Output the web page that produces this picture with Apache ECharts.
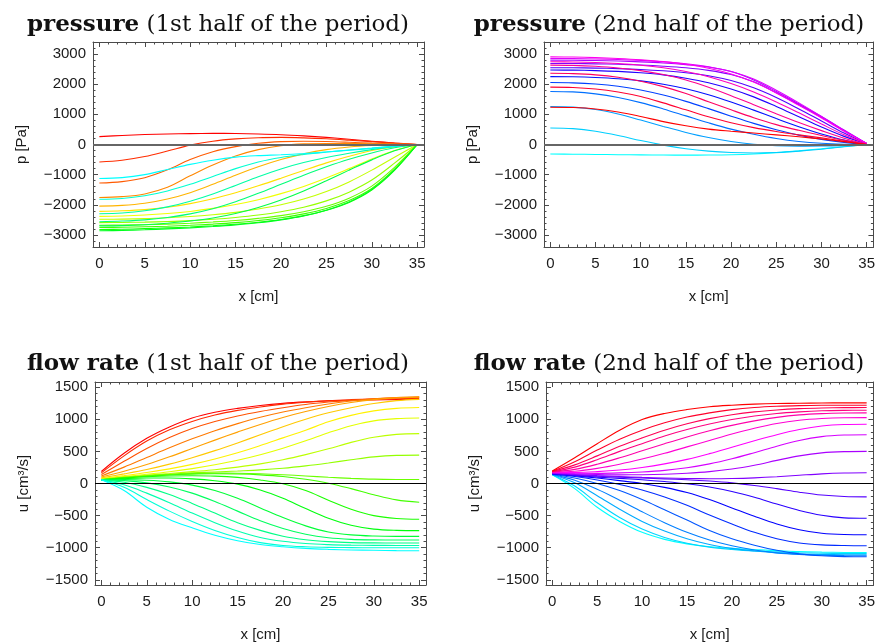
<!DOCTYPE html>
<html>
<head>
<meta charset="utf-8">
<script src="https://cdn.jsdelivr.net/npm/echarts@6.0.0/dist/echarts.min.js"></script>
<style>
html,body{margin:0;padding:0;background:#ffffff;}
#chart{width:878px;height:644px;}
</style>
</head>
<body>
<div id="chart"></div>
<script>
// positions along the tube (cm) at which each curve is sampled
const xCm = [0, 2.5, 5, 7.5, 10, 12.5, 15, 17.5, 20, 22.5, 25, 27.5, 30, 32.5, 35];

// pressure [Pa], 1st half of the period (time order: red -> cyan)
const pressureFirstHalf = [
  [262, 300, 330, 350, 362, 368, 365, 350, 325, 285, 235, 175, 110, 50, 0],
  [-579, -520, -400, -215, -20, 110, 185, 225, 235, 220, 190, 145, 95, 45, 0],
  [-1279, -1230, -1100, -840, -500, -240, -70, 40, 95, 110, 100, 75, 45, 20, 0],
  [-1760, -1730, -1640, -1420, -1040, -680, -380, -170, -40, 20, 35, 32, 22, 10, 0],
  [-2044, -2020, -1950, -1810, -1600, -1320, -1020, -740, -500, -310, -170, -85, -35, -10, 0],
  [-2219, -2200, -2160, -2080, -1960, -1800, -1600, -1370, -1120, -860, -610, -390, -200, -70, 0],
  [-2383, -2370, -2340, -2290, -2220, -2120, -1990, -1830, -1630, -1390, -1110, -800, -480, -200, 0],
  [-2481, -2475, -2460, -2430, -2390, -2330, -2250, -2140, -2000, -1810, -1560, -1240, -850, -420, 0],
  [-2590, -2585, -2575, -2555, -2525, -2480, -2420, -2340, -2230, -2080, -1870, -1580, -1180, -620, 0],
  [-2678, -2672, -2660, -2640, -2610, -2570, -2520, -2450, -2360, -2230, -2050, -1780, -1380, -760, 0],
  [-2754, -2745, -2730, -2710, -2680, -2640, -2590, -2520, -2430, -2300, -2120, -1860, -1460, -820, 0],
  [-2820, -2810, -2790, -2765, -2735, -2695, -2645, -2580, -2490, -2360, -2180, -1920, -1510, -860, 0],
  [-2863, -2850, -2830, -2800, -2765, -2720, -2665, -2595, -2500, -2370, -2180, -1910, -1490, -840, 0],
  [-2700, -2690, -2660, -2610, -2540, -2440, -2290, -2090, -1840, -1540, -1200, -850, -510, -210, 0],
  [-2560, -2540, -2500, -2420, -2300, -2130, -1900, -1620, -1320, -1020, -740, -490, -280, -110, 0],
  [-2295, -2270, -2200, -2070, -1880, -1640, -1360, -1070, -810, -600, -430, -290, -170, -70, 0],
  [-1814, -1790, -1700, -1540, -1320, -1060, -800, -580, -430, -330, -250, -180, -120, -55, 0],
  [-1126, -1100, -1000, -830, -660, -520, -420, -370, -340, -300, -250, -190, -130, -60, 0]
];

// pressure [Pa], 2nd half of the period (time order: cyan -> blue -> magenta -> red)
const pressureSecondHalf = [
  [-317, -322, -330, -338, -345, -350, -352, -350, -340, -315, -270, -210, -140, -65, 0],
  [546, 525, 440, 300, 130, -20, -140, -220, -265, -280, -265, -220, -155, -75, 0],
  [1257, 1240, 1160, 1010, 810, 600, 400, 230, 100, 10, -40, -55, -50, -30, 0],
  [1760, 1745, 1680, 1560, 1390, 1180, 950, 720, 510, 340, 200, 100, 40, 10, 0],
  [2055, 2045, 2005, 1930, 1810, 1640, 1430, 1190, 940, 700, 490, 310, 170, 70, 0],
  [2251, 2245, 2222, 2180, 2110, 2000, 1850, 1650, 1410, 1140, 860, 590, 350, 150, 10],
  [2470, 2466, 2452, 2425, 2380, 2310, 2200, 2050, 1840, 1580, 1260, 920, 580, 270, 20],
  [2546, 2544, 2535, 2518, 2490, 2445, 2380, 2280, 2120, 1880, 1560, 1180, 780, 380, 30],
  [2689, 2686, 2676, 2660, 2635, 2598, 2545, 2460, 2320, 2080, 1720, 1320, 900, 460, 30],
  [2798, 2795, 2785, 2768, 2742, 2705, 2650, 2570, 2420, 2140, 1760, 1350, 930, 480, 30],
  [2852, 2848, 2838, 2820, 2790, 2745, 2680, 2580, 2420, 2170, 1800, 1380, 930, 460, 30],
  [2907, 2900, 2882, 2852, 2810, 2750, 2660, 2530, 2340, 2070, 1710, 1300, 880, 440, 30],
  [2743, 2738, 2720, 2685, 2630, 2545, 2420, 2250, 2020, 1740, 1410, 1050, 680, 320, 20],
  [2634, 2625, 2595, 2540, 2450, 2320, 2140, 1900, 1620, 1320, 1020, 730, 460, 210, 10],
  [2361, 2350, 2310, 2230, 2100, 1920, 1690, 1420, 1150, 890, 660, 470, 300, 140, 0],
  [1902, 1890, 1840, 1740, 1590, 1380, 1150, 920, 720, 560, 430, 320, 220, 110, 0],
  [1235, 1225, 1180, 1080, 930, 760, 620, 510, 440, 380, 320, 255, 180, 95, 0]
];

// flow rate [cm^3/s], 1st half of the period
const flowFirstHalf = [
  [187, 470, 703, 880, 1020, 1110, 1170, 1215, 1248, 1270, 1285, 1295, 1302, 1306, 1308],
  [165, 430, 660, 835, 965, 1065, 1138, 1192, 1235, 1265, 1290, 1305, 1315, 1320, 1322],
  [140, 345, 545, 715, 855, 965, 1052, 1122, 1180, 1230, 1268, 1298, 1320, 1335, 1340],
  [118, 255, 405, 555, 695, 822, 932, 1030, 1112, 1180, 1238, 1285, 1318, 1338, 1348],
  [100, 190, 295, 415, 545, 675, 800, 920, 1028, 1120, 1198, 1260, 1305, 1333, 1345],
  [88, 150, 218, 302, 402, 512, 632, 758, 885, 1000, 1100, 1180, 1245, 1290, 1310],
  [78, 122, 170, 228, 298, 382, 478, 590, 710, 830, 960, 1060, 1130, 1170, 1183],
  [70, 108, 143, 183, 232, 292, 362, 448, 550, 665, 790, 900, 975, 1010, 1020],
  [65, 100, 128, 155, 185, 215, 255, 305, 370, 450, 540, 640, 720, 765, 776],
  [60, 95, 122, 145, 165, 180, 195, 212, 238, 275, 320, 370, 415, 438, 442],
  [58, 92, 118, 140, 155, 162, 160, 152, 137, 117, 97, 80, 68, 63, 62],
  [57, 88, 112, 132, 146, 152, 148, 135, 110, 65, 5, -80, -175, -255, -292],
  [57, 84, 104, 116, 120, 115, 95, 55, -5, -110, -260, -400, -500, -545, -557],
  [57, 75, 85, 85, 72, 42, -10, -100, -230, -390, -540, -650, -710, -730, -734],
  [57, 60, 50, 25, -25, -110, -230, -380, -530, -660, -755, -800, -818, -823, -823],
  [57, 45, 10, -55, -150, -280, -430, -580, -700, -790, -845, -870, -878, -880, -880],
  [57, 20, -60, -170, -310, -460, -610, -730, -820, -875, -905, -920, -925, -927, -927],
  [57, -20, -150, -300, -460, -610, -740, -840, -900, -935, -952, -960, -963, -964, -964],
  [57, -60, -250, -430, -590, -730, -840, -920, -965, -985, -995, -998, -1000, -1000, -1000],
  [57, -110, -370, -560, -690, -805, -890, -950, -985, -1010, -1025, -1035, -1040, -1045, -1047]
];

// flow rate [cm^3/s], 2nd half of the period
const flowSecondHalf = [
  [135, -80, -370, -590, -760, -870, -940, -985, -1010, -1030, -1045, -1060, -1068, -1073, -1075],
  [138, -40, -300, -530, -710, -840, -930, -990, -1025, -1050, -1065, -1078, -1085, -1089, -1090],
  [140, 10, -190, -400, -590, -740, -860, -950, -1010, -1050, -1080, -1097, -1105, -1109, -1110],
  [142, 50, -90, -260, -440, -610, -760, -880, -970, -1035, -1080, -1105, -1118, -1123, -1125],
  [145, 85, 0, -110, -250, -410, -570, -730, -860, -960, -1040, -1095, -1125, -1138, -1141],
  [148, 110, 55, -15, -100, -210, -340, -490, -630, -760, -860, -925, -955, -966, -969],
  [150, 120, 85, 45, 0, -60, -140, -250, -380, -510, -630, -720, -775, -794, -797],
  [152, 125, 100, 80, 58, 30, -5, -55, -125, -215, -320, -420, -495, -535, -542],
  [155, 130, 112, 98, 85, 72, 58, 38, 10, -30, -80, -135, -180, -203, -208],
  [160, 140, 122, 108, 95, 85, 78, 75, 78, 88, 105, 128, 150, 163, 167],
  [165, 150, 140, 135, 137, 145, 160, 185, 225, 285, 360, 430, 477, 496, 500],
  [170, 160, 158, 165, 180, 205, 245, 305, 385, 480, 580, 670, 730, 755, 760],
  [172, 172, 185, 210, 250, 305, 375, 465, 565, 665, 760, 840, 895, 918, 922],
  [175, 190, 235, 300, 380, 470, 570, 670, 770, 860, 935, 985, 1012, 1024, 1026],
  [178, 220, 300, 400, 510, 620, 725, 820, 905, 975, 1030, 1068, 1088, 1097, 1099],
  [182, 255, 370, 500, 620, 740, 840, 925, 995, 1050, 1090, 1115, 1132, 1139, 1141],
  [185, 290, 430, 580, 710, 830, 930, 1010, 1070, 1115, 1145, 1165, 1176, 1181, 1182],
  [190, 340, 520, 690, 830, 945, 1035, 1100, 1150, 1183, 1202, 1212, 1217, 1219, 1219],
  [195, 400, 620, 830, 995, 1090, 1151, 1195, 1219, 1235, 1245, 1250, 1253, 1255, 1255]
];

const panelTitles = [
  ['pressure', ' (1st half of the period)'],
  ['pressure', ' (2nd half of the period)'],
  ['flow rate', ' (1st half of the period)'],
  ['flow rate', ' (2nd half of the period)']
];
const xAxisTitle = 'x [cm]';
const yAxisTitles = ['p [Pa]', 'p [Pa]', 'u [cm\u00b3/s]', 'u [cm\u00b3/s]'];

// ---------- styling / layout ----------
function hueColor(h) {
  h = ((h % 1) + 1) % 1;
  const i = Math.floor(h * 6), f = h * 6 - i;
  const q = 1 - f, t = f;
  let r, g, b;
  switch (i % 6) {
    case 0: r = 1; g = t; b = 0; break;
    case 1: r = q; g = 1; b = 0; break;
    case 2: r = 0; g = 1; b = t; break;
    case 3: r = 0; g = q; b = 1; break;
    case 4: r = t; g = 0; b = 1; break;
    default: r = 1; g = 0; b = q;
  }
  return 'rgb(' + Math.round(r * 255) + ',' + Math.round(g * 255) + ',' + Math.round(b * 255) + ')';
}

const layout = [
  { data: pressureFirstHalf, hue0: 0.0, left: 93, top: 42, width: 331, height: 205, yLim: 3400, zero: '#666', zeroW: 2, tx: 218, ty: 25 },
  { data: pressureSecondHalf, hue0: 0.5, left: 544, top: 42, width: 331, height: 205, yLim: 3400, zero: '#666', zeroW: 2, tx: 669, ty: 25 },
  { data: flowFirstHalf, hue0: 0.0, left: 95, top: 382, width: 331, height: 203, yLim: 1580, zero: '#000', zeroW: 1, tx: 218, ty: 364 },
  { data: flowSecondHalf, hue0: 0.5, left: 546, top: 382, width: 331, height: 203, yLim: 1580, zero: '#000', zeroW: 1, tx: 669, ty: 364 }
];

const frameColor = '#4a4a4a';
const labelFont = { fontFamily: 'Liberation Sans', fontSize: 15, color: '#1a1a1a' };

function fmt(step) {
  return function (v) {
    const k = v / step;
    if (Math.abs(k - Math.round(k)) > 1e-6) return '';
    const n = Math.round(k) * step;
    return n < 0 ? '\u2212' + Math.abs(n) : String(n);
  };
}

const grids = [], xAxes = [], yAxes = [], series = [], graphics = [];

layout.forEach((p, gi) => {
  grids.push({ left: p.left, top: p.top, width: p.width, height: p.height, show: false, containLabel: false });
  const common = {
    gridIndex: gi, type: 'value',
    axisLine: { show: true, onZero: false, lineStyle: { color: frameColor, width: 1 } },
    axisTick: { show: true, inside: true, length: 5, lineStyle: { color: frameColor } },
    minorTick: { show: true, splitNumber: 5, length: 2.5, lineStyle: { color: frameColor } },
    splitLine: { show: false }
  };
  const xBase = Object.assign({}, common, { min: -0.7, max: 35.75, splitNumber: 7 });
  xAxes.push(Object.assign({}, xBase, {
    position: 'bottom',
    axisLabel: Object.assign({ margin: 9, formatter: fmt(5) }, labelFont),
    name: xAxisTitle, nameLocation: 'middle', nameGap: 42,
    nameTextStyle: Object.assign({}, labelFont)
  }));
  xAxes.push(Object.assign({}, xBase, { position: 'top', axisLabel: { show: false } }));
  const yStep = p.yLim > 2000 ? 1000 : 500;
  const yBase = Object.assign({}, common, { min: -p.yLim, max: p.yLim, splitNumber: 7 });
  yAxes.push(Object.assign({}, yBase, {
    position: 'left',
    axisLabel: Object.assign({ margin: 7, formatter: fmt(yStep) }, labelFont),
    name: yAxisTitles[gi], nameLocation: 'middle', nameGap: 64,
    nameTextStyle: Object.assign({}, labelFont)
  }));
  yAxes.push(Object.assign({}, yBase, { position: 'right', axisLabel: { show: false } }));

  const n = p.data.length;
  p.data.forEach((curve, ci) => {
    const s = {
      type: 'line',
      xAxisIndex: gi * 2, yAxisIndex: gi * 2,
      data: xCm.map((x, k) => [x, curve[k]]),
      showSymbol: false, symbol: 'none',
      smooth: 0.35,
      silent: true,
      animation: false,
      lineStyle: { width: 1.1, color: hueColor(p.hue0 + ci * 0.5 / (n - 1)) },
      z: 3
    };
    if (ci === 0) {
      s.markLine = {
        silent: true, symbol: ['none', 'none'], animation: false,
        label: { show: false },
        lineStyle: { color: p.zero, width: p.zeroW, type: 'solid' },
        data: [{ yAxis: 0 }]
      };
    }
    series.push(s);
  });

  graphics.push({
    type: 'text', x: p.tx, y: p.ty, z: 10,
    style: {
      text: '{b|' + panelTitles[gi][0] + '}{n|' + panelTitles[gi][1] + '}',
      align: 'center', verticalAlign: 'middle',
      fontFamily: 'DejaVu Serif', fontSize: 23, fill: '#111',
      rich: {
        b: { fontFamily: 'DejaVu Serif', fontSize: 23, fontWeight: 'bold', fill: '#111', color: '#111' },
        n: { fontFamily: 'DejaVu Serif', fontSize: 23, fontWeight: 'normal', fill: '#111', color: '#111' }
      }
    }
  });
});

const chart = echarts.init(document.getElementById('chart'), null, { renderer: 'canvas' });
chart.setOption({
  animation: false,
  backgroundColor: '#ffffff',
  grid: grids,
  xAxis: xAxes,
  yAxis: yAxes,
  series: series,
  graphic: graphics
});
</script>
</body>
</html>
